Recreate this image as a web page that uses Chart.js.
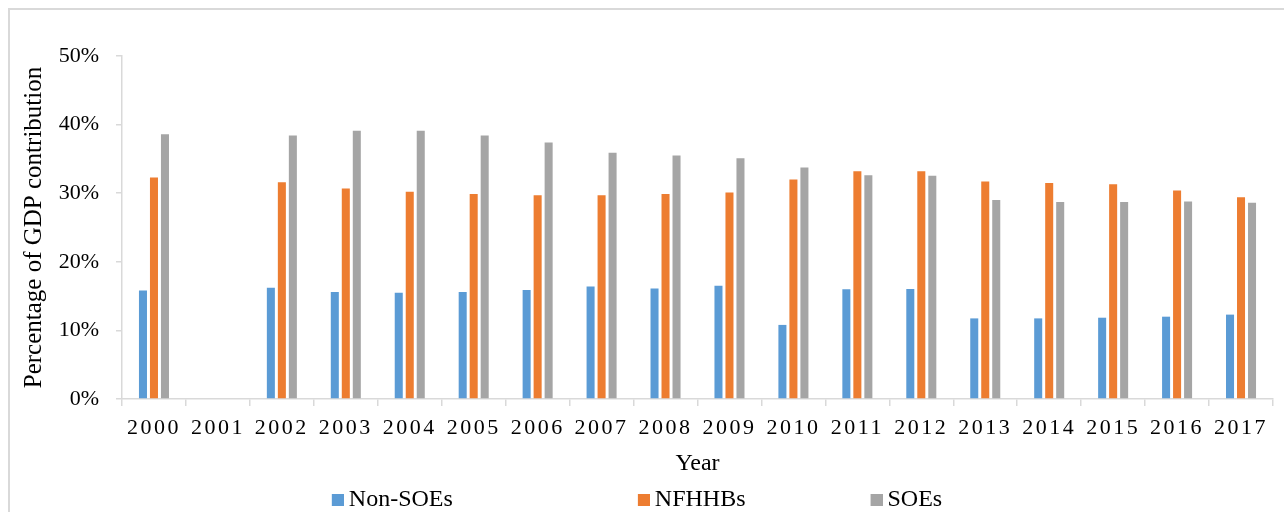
<!DOCTYPE html>
<html>
<head>
<meta charset="utf-8">
<script src="https://cdn.jsdelivr.net/npm/chart.js@4.4.1/dist/chart.umd.min.js"></script>
<style>
  html, body { margin: 0; padding: 0; background: #fff; overflow: hidden; }
  #wrap { position: relative; width: 1284px; height: 512px; overflow: hidden; background: #fff; }
  #frame { position: absolute; left: 8px; top: 8px; width: 1300px; height: 530px; border: 2px solid #d9d9d9; box-sizing: border-box; }
  canvas { position: absolute; left: 0; top: 0; }
</style>
</head>
<body>
<div id="wrap">
  <div id="frame"></div>
  <canvas id="c" width="1284" height="512"></canvas>
</div>
<script>
const years = ['2000','2001','2002','2003','2004','2005','2006','2007','2008','2009','2010','2011','2012','2013','2014','2015','2016','2017'];
const nonSOEs = [15.8, null, 16.2, 15.6, 15.5, 15.6, 15.9, 16.4, 16.1, 16.5, 10.8, 16.0, 16.05, 11.75, 11.75, 11.85, 12.0, 12.3];
const nfhhbs  = [32.3, null, 31.6, 30.7, 30.2, 29.9, 29.7, 29.7, 29.9, 30.1, 32.0, 33.2, 33.2, 31.7, 31.5, 31.3, 30.4, 29.4];
const soes    = [38.6, null, 38.4, 39.1, 39.1, 38.4, 37.4, 35.9, 35.5, 35.1, 33.75, 32.6, 32.55, 29.0, 28.7, 28.7, 28.8, 28.6];
const yTicks  = [0, 10, 20, 30, 40, 50];

const FONT = "'Liberation Serif', 'Times New Roman', serif";
const legendTrail = [28, 18, 1];

Chart.defaults.font.family = FONT;
Chart.defaults.color = '#000';

// legend swatch: 12px square placed at the right of a wider transparent canvas
function swatch(color) {
  const c = document.createElement('canvas');
  c.width = 26; c.height = 12;
  const g = c.getContext('2d');
  g.fillStyle = color;
  g.fillRect(14, 0, 12, 12);
  return c;
}

const xLetterSpacing = {
  id: 'xLetterSpacing',
  beforeDraw(chart) {
    const s = chart.scales.x;
    if (s && !s.__ls) {
      const orig = s.drawLabels;
      s.drawLabels = function(area) {
        const ctx = this.ctx;
        ctx.save();
        ctx.letterSpacing = '2.5px';
        orig.call(this, area);
        ctx.restore();
      };
      s.__ls = true;
    }
  }
};

new Chart(document.getElementById('c'), {
  type: 'bar',
  data: {
    labels: years,
    datasets: [
      { label: 'Non-SOEs', data: nonSOEs, backgroundColor: '#5B9BD5' },
      { label: 'NFHHBs', data: nfhhbs, backgroundColor: '#ED7D31' },
      { label: 'SOEs', data: soes, backgroundColor: '#A5A5A5' }
    ]
  },
  plugins: [xLetterSpacing],
  options: {
    responsive: false,
    animation: false,
    devicePixelRatio: 1,
    layout: { padding: { left: 0, right: 11, top: 56, bottom: 0 } },
    datasets: { bar: { categoryPercentage: 0.516, barPercentage: 0.73 } },
    plugins: {
      tooltip: { enabled: false },
      legend: {
        position: 'bottom',
        maxHeight: 34,
        labels: {
          usePointStyle: true,
          boxWidth: 12,
          boxHeight: 12,
          padding: 10,
          color: '#000',
          font: { family: FONT, size: 24 },
          generateLabels(chart) {
            const items = Chart.defaults.plugins.legend.labels.generateLabels(chart);
            items.forEach((it, i) => {
              it.pointStyle = swatch(it.fillStyle);
              it.text = it.text + '\u00a0'.repeat(legendTrail[i] || 0);
              it.lineWidth = 0;
              it.strokeStyle = 'rgba(0,0,0,0)';
            });
            return items;
          }
        }
      }
    },
    scales: {
      x: {
        afterFit(scale) { scale.height = 79; },
        grid: { offset: true, drawOnChartArea: false, drawTicks: true, tickLength: 7, color: '#d9d9d9', lineWidth: 1.5 },
        border: { display: true, color: '#d9d9d9', width: 1.5 },
        ticks: { color: '#000', padding: 9, font: { family: FONT, size: 22 }, maxRotation: 0, autoSkip: false },
        title: { display: true, text: 'Year', color: '#000', font: { family: FONT, size: 24 }, padding: { top: 0, bottom: 0 } }
      },
      y: {
        min: 0,
        max: 50,
        afterFit(scale) { scale.width = 122; },
        afterBuildTicks(scale) { scale.ticks = yTicks.map(v => ({ value: v })); },
        grid: { drawOnChartArea: false, drawTicks: true, tickLength: 6, color: '#d9d9d9', lineWidth: 1.5 },
        border: { display: true, color: '#d9d9d9', width: 1.5 },
        ticks: { color: '#000', padding: 17, font: { family: FONT, size: 22 }, callback: v => v + '%' },
        title: { display: true, text: 'Percentage of GDP contribution', color: '#000', font: { family: FONT, size: 25 }, padding: { top: 19, bottom: 0 } }
      }
    }
  }
});
</script>
</body>
</html>
